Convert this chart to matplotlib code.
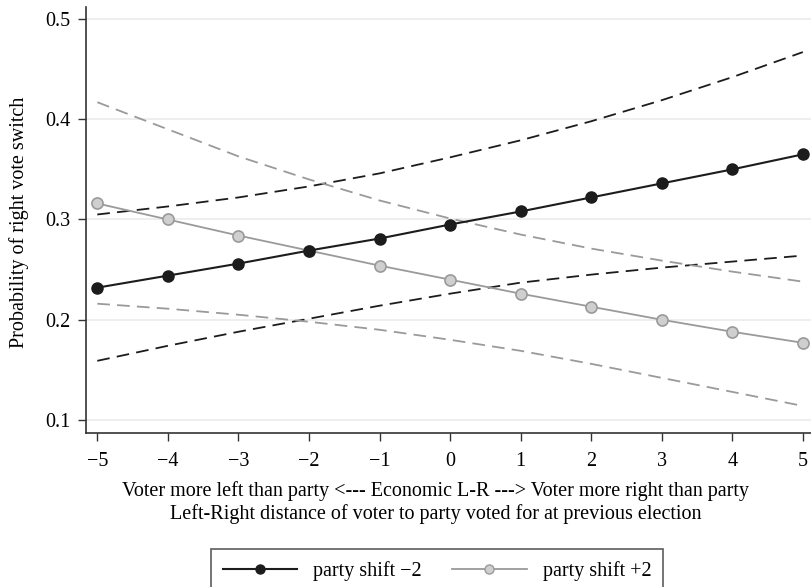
import matplotlib.pyplot as plt
from matplotlib.lines import Line2D

plt.rcParams['font.family'] = ['Liberation Serif', 'DejaVu Serif']

x = [-5, -4, -3, -2, -1, 0, 1, 2, 3, 4, 5]

# party shift -2 (black) with 95% bounds
shift_m2 = [0.232, 0.244, 0.256, 0.269, 0.281, 0.295, 0.308, 0.322, 0.336, 0.350, 0.365]
shift_m2_hi = [0.305, 0.313, 0.322, 0.333, 0.346, 0.362, 0.379, 0.398, 0.419, 0.442, 0.467]
shift_m2_lo = [0.159, 0.174, 0.188, 0.201, 0.214, 0.226, 0.237, 0.245, 0.252, 0.258, 0.264]

# party shift +2 (grey) with 95% bounds
shift_p2 = [0.316, 0.300, 0.284, 0.269, 0.254, 0.240, 0.226, 0.213, 0.200, 0.188, 0.177]
shift_p2_hi = [0.417, 0.390, 0.363, 0.340, 0.319, 0.301, 0.285, 0.271, 0.259, 0.248, 0.238]
shift_p2_lo = [0.216, 0.211, 0.205, 0.198, 0.190, 0.180, 0.169, 0.156, 0.142, 0.128, 0.114]

fs = 14.5
fig = plt.figure(figsize=(8.12, 5.87), dpi=100)
ax = fig.add_axes([86/812, 1 - 433/587, 1 - 86/812, (433 - 7)/587])

blk = '#1c1c1c'
gry = '#9a9a9a'
dash = (0, (7, 4))

for yy in [0.1, 0.2, 0.3, 0.4, 0.5]:
    ax.axhline(yy, color='#ebebeb', lw=1.2, zorder=0)

ax.plot(x, shift_m2_hi, color=blk, lw=1.3, linestyle=dash)
ax.plot(x, shift_m2_lo, color=blk, lw=1.3, linestyle=dash)
ax.plot(x, shift_p2_hi, color=gry, lw=1.3, linestyle=dash)
ax.plot(x, shift_p2_lo, color=gry, lw=1.3, linestyle=dash)

ax.plot(x, shift_p2, color=gry, lw=1.3, marker='o', ms=8,
        markerfacecolor='#cfcfcf', markeredgecolor=gry, markeredgewidth=1.2, zorder=3)
ax.plot(x, shift_m2, color=blk, lw=1.5, marker='o', ms=8,
        markerfacecolor=blk, markeredgecolor=blk, zorder=4)

ax.set_xlim(-5.16, 5.13)
ax.set_ylim(0.087, 0.512)
ax.set_xticks(x)
ax.set_yticks([0.1, 0.2, 0.3, 0.4, 0.5])
ax.set_yticklabels(['0.1', '0.2', '0.3', '0.4', '0.5'])
ax.tick_params(labelsize=fs, length=6, width=1, color='#333333', pad=5)
ax.tick_params(axis='x', pad=8)
for s in ['top', 'right']:
    ax.spines[s].set_visible(False)
for s in ['left', 'bottom']:
    ax.spines[s].set_color('#333333')
    ax.spines[s].set_linewidth(1.2)

fig.text(19/812, 1 - 222/587, 'Probability of right vote switch', rotation=90,
         ha='center', va='center', fontsize=fs)
fig.text(436/812, 1 - 491/587,
         'Voter more left than party <--- Economic L-R ---> Voter more right than party',
         ha='center', va='center', fontsize=fs)
fig.text(436/812, 1 - 514/587,
         'Left-Right distance of voter to party voted for at previous election',
         ha='center', va='center', fontsize=fs)

handles = [
    Line2D([], [], color=blk, lw=1.5, marker='o', ms=6.5, markerfacecolor=blk),
    Line2D([], [], color=gry, lw=1.3, marker='o', ms=6.5,
           markerfacecolor='#cfcfcf', markeredgecolor=gry),
]
leg = fig.legend(handles, ['party shift \u22122', 'party shift +2'], ncol=2,
                 loc='upper center', bbox_to_anchor=(437/812, 1 - 549/587),
                 fontsize=fs, frameon=True, fancybox=False, handlelength=3.7,
                 handletextpad=0.8, columnspacing=1.5, borderpad=0.6,
                 borderaxespad=0)
leg.get_frame().set_edgecolor('#333333')
leg.get_frame().set_linewidth(1.2)

fig.savefig('out.png', dpi=100)
